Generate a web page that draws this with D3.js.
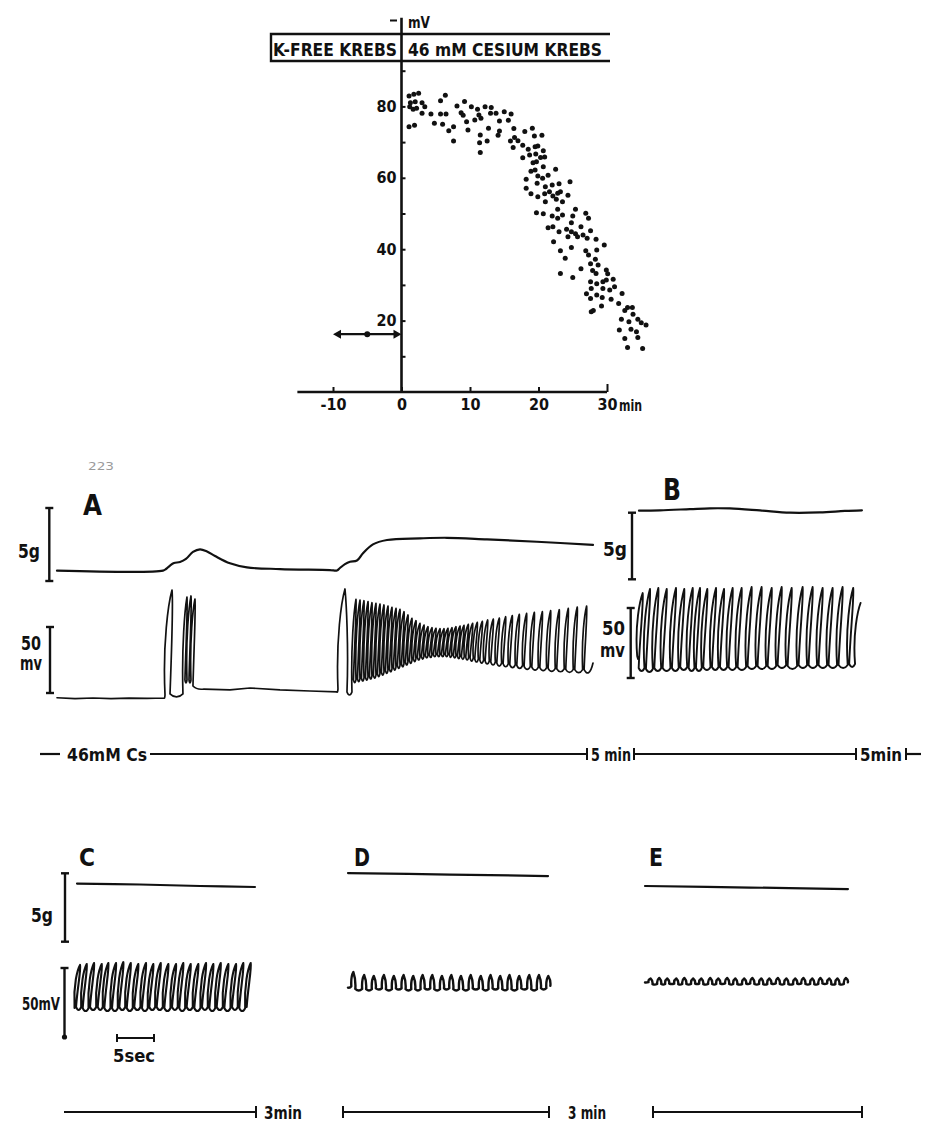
<!DOCTYPE html>
<html>
<head>
<meta charset="utf-8">
<script src="https://cdn.jsdelivr.net/npm/d3@7/dist/d3.min.js"></script>
<style>
html,body{margin:0;padding:0;background:#fff;}
svg{display:block;}
text{font-family:"Liberation Sans Narrow","DejaVu Sans Condensed","Liberation Sans",sans-serif;font-weight:bold;fill:#111;}
</style>
</head>
<body>
<svg id="fig" width="927" height="1126" viewBox="0 0 927 1126"></svg>
<script>
// ================= DATA =================
// --- scatter: membrane potential (-mV) vs time (min) in 46 mM cesium Krebs
const scatterTime = [1.1,1.8,2.5,1.3,2.0,3.0,1.2,1.7,2.2,3.4,3.0,4.3,1.1,1.9,4.8,5.7,6.4,5.7,6.5,6.0,6.9,7.6,7.6,8.1,9.2,8.7,9.0,9.5,9.7,10.2,11.1,11.3,10.7,11.6,12.2,13.1,13.0,13.8,14.3,15.0,16.0,15.6,11.5,11.4,12.5,11.5,12.7,14.3,14.1,16.4,16.5,15.9,17.0,16.3,17.7,18.0,19.1,19.4,20.5,18.5,19.5,19.9,20.7,17.7,18.7,19.6,20.3,20.9,19.2,19.7,18.9,19.5,20.7,22.5,18.2,19.9,20.6,21.4,19.8,18.2,21.0,22.0,23.0,24.6,18.9,19.9,20.9,21.6,22.1,22.8,23.2,22.6,23.5,24.3,21.0,19.7,20.7,22.0,22.8,23.5,22.8,25.4,25.0,26.9,27.3,24.8,21.4,22.1,23.0,24.1,24.8,25.4,25.7,26.2,26.5,27.1,27.6,24.3,22.2,28.4,29.6,23.2,24.8,26.9,28.5,23.9,27.3,28.3,27.6,28.7,26.2,27.9,28.4,23.2,25.0,27.6,28.5,29.4,27.7,29.4,27.0,27.6,28.5,29.3,29.9,30.1,29.9,30.9,31.1,30.4,30.6,31.7,32.2,29.2,27.7,33.0,33.7,32.6,33.8,32.1,33.2,34.5,35.0,35.7,31.8,33.5,34.3,32.6,34.5,33.0,35.2,28.0];
const scatterMv = [82.9,83.4,83.7,81.0,81.3,81.0,79.9,79.2,79.5,79.9,78.1,77.9,74.3,74.7,75.3,81.6,83.1,77.9,77.9,75.0,73.2,74.3,70.3,80.1,81.4,78.2,77.5,75.7,73.4,79.9,79.2,77.6,76.2,76.7,79.9,79.7,78.1,78.1,75.9,78.5,77.9,76.1,72.0,69.8,70.3,67.1,73.9,73.1,71.9,73.8,71.3,70.3,70.4,68.5,69.1,73.0,73.9,71.7,71.9,68.0,68.7,68.9,67.6,65.6,66.4,66.7,65.7,65.8,64.2,64.5,61.8,62.2,63.1,62.4,59.6,60.5,59.9,60.7,58.5,57.1,57.5,58.0,58.3,58.9,55.5,54.7,55.5,56.1,54.9,55.7,56.1,54.0,53.3,55.1,53.3,50.2,49.9,49.3,48.7,49.6,51.2,51.2,49.3,50.1,48.7,47.4,46.0,46.3,44.9,45.6,44.9,44.3,43.5,46.3,44.0,43.1,45.2,43.5,42.1,42.8,41.2,39.6,40.5,39.6,39.8,37.5,38.4,37.2,35.9,35.6,34.5,34.0,33.2,33.2,32.1,30.9,30.3,30.9,29.0,29.0,27.5,26.2,27.2,26.5,34.2,33.1,31.4,31.6,29.5,28.6,26.0,24.8,27.6,24.1,22.5,23.7,23.7,22.8,21.8,20.4,19.7,20.4,19.4,18.8,17.4,17.6,16.9,15.0,15.3,12.5,12.2,22.8];
// control value in K-free Krebs (mean with range, -10..0 min)
const controlTime = [-10, -5, 0];
const controlMv = 16.2;
const xTicks = [-10, 0, 10, 20, 30];
const xTickLabels = ["-10", "0", "10", "20", "30"];
const yTicks = [10, 20, 30, 40, 50, 60, 70, 80, 90];
const yTickLabels = ["", "20", "", "40", "", "60", "", "80", ""];
const solutionLabels = ["K-FREE KREBS", "46 mM CESIUM KREBS"];

// --- trace A (time in chart units, tension in g, potential in mV above bar foot)
const tensATime = [0,11.78,12.11,12.56,13.0,13.67,14.33,15.11,15.89,16.67,17.56,19.22,21.11,24.78,30.33,31.11,31.44,32.0,32.56,33.33,34.0,35.11,36.67,40.33,43.33,47.78,53.33,59.56];
const tensAG    = [0.71,0.71,0.82,1.06,1.23,1.30,1.51,1.99,2.17,2.02,1.71,1.21,0.93,0.82,0.75,0.72,0.89,1.16,1.32,1.40,1.90,2.51,2.81,2.92,2.96,2.85,2.69,2.47];
const memABase1T = [0, 2, 4, 6, 8, 10, 11.9];
const memABase1V = [-3.6, -4.2, -3.8, -4.3, -3.9, -4.1, -3.8];
const spikeA1T = [12.78, 14.44, 14.89, 15.33];
const spikeA1Peak = [78.0, 72.7, 73.5, 71.2];
const spikeA1Trough = [-3.0, 7.6, 7.6, 3.0];
const memABase2T = [16.33, 19.22, 21.44, 24.78, 28.11, 31.11];
const memABase2V = [3.0, 2.3, 3.8, 2.3, 1.5, 0.8];
const spikeA2T = [32.0,33.22,33.67,34.11,34.56,35.0,35.44,35.89,36.33,36.78,37.22,37.67,38.11,38.56,39.0,39.44,39.89,40.33,40.78,41.22,41.67,42.11,42.56,43.0,43.44,43.89,44.33,44.78,45.22,45.70,46.18,46.70,47.26,47.85,48.48,49.15,49.85,50.59,51.37,52.18,53.04,53.93,54.85,55.81,56.81,57.81,58.85];
const spikeA2Peak = [78.8,70.9,70.4,69.9,69.2,68.4,67.9,67.4,66.7,65.9,64.9,64.1,63.4,61.6,59.1,56.6,54.8,52.8,51.5,50.2,49.5,49.0,48.7,48.7,49.0,49.5,50.2,50.7,51.3,52.0,52.8,53.5,54.3,55.3,56.0,56.8,57.8,58.6,59.6,60.3,61.1,61.6,62.4,63.1,64.1,65.1,65.9];
const spikeA2Trough = [-1.5,7.8,8.6,9.1,9.8,10.6,11.3,12.4,13.6,14.9,16.1,17.4,18.7,19.9,21.2,22.5,23.7,25.0,25.7,26.5,27.0,27.5,27.5,27.5,27.5,27.0,26.5,26.0,25.5,25.0,24.2,23.5,22.7,22.0,21.2,20.4,19.9,19.2,18.7,17.9,17.4,16.9,16.4,16.1,15.6,15.4,15.4];
const memAEnd = [59.56, 22.7];

// --- trace B
const tensBTime = [0.11, 2.44, 5.78, 8.0, 10.22, 13.56, 16.89, 20.22, 23.0, 24.89];
const tensBG    = [5.15, 5.18, 5.27, 5.33, 5.32, 5.17, 5.0, 5.02, 5.13, 5.18];
const spikeBT = [0.52,1.33,2.26,3.19,4.22,5.14,6.08,6.89,7.70,8.67,9.56,10.52,11.52,12.63,13.74,14.86,15.97,17.08,18.30,19.41,20.52,21.63,22.74,23.92,24.74];
const spikeBPeak = [60.7,63.6,64.3,63.6,64.3,63.6,64.3,64.3,63.6,64.3,63.6,64.3,64.3,65.0,65.0,64.3,65.0,64.3,65.0,65.0,64.3,64.3,65.0,64.3,53.6];
const spikeBTrough = [5.0,4.3,5.0,5.0,5.0,5.7,5.0,5.0,5.7,5.7,5.7,5.7,5.7,6.4,6.4,6.4,7.1,6.4,7.1,7.1,7.1,7.1,7.1,7.9,null];
const memBStart = 13.6;

// --- traces C, D, E (time in s, shared 5 g / 50 mV bars)
const tensCTime = [0, 8.51, 16.62, 24.05];
const tensCG    = [4.25, 4.18, 4.07, 4.0];
const spikeCT = [0.41,1.31,2.30,3.34,4.23,5.27,6.26,7.26,8.28,9.32,10.31,11.31,12.34,13.38,14.36,15.36,16.39,17.43,18.42,19.42,20.45,21.49,22.47,23.47];
const spikeCPeak = [52.2,52.9,53.6,52.9,53.6,53.6,54.3,53.6,52.9,53.6,52.9,53.6,52.9,52.9,53.6,52.9,52.9,53.6,52.9,53.6,52.9,52.9,53.6,53.6];
const spikeCTrough = [19.6,18.8,19.6,19.6,18.8,18.8,19.6,18.8,19.6,18.8,19.6,19.6,18.8,19.6,18.8,19.6,18.8,19.6,18.8,19.6,18.8,19.6,18.8,19.6];
const memCStart = 21.0;

const tensDTime = [0, 13.78, 27.03];
const tensDG    = [5.02, 4.91, 4.80];
const spikeDT = [0.72,2.18,3.49,4.85,6.2,7.51,8.82,10.08,11.39,12.7,13.96,15.27,16.58,17.95,19.26,20.57,21.82,23.14,24.49,25.8,27.07];
const spikeDPeak = [47.1,44.9,44.2,44.9,44.2,44.9,44.2,44.9,44.9,44.2,44.9,44.2,44.9,44.2,44.9,44.2,44.9,44.2,44.9,44.9,44.2];
const spikeDTrough = [33.8,33.8,34.5,33.8,34.5,33.8,33.8,34.5,33.8,34.5,33.8,33.8,34.5,33.8,34.5,33.8,33.8,34.5,33.8,34.5,36.5];
const memDStart = 35.8;

const tensETime = [0, 14.19, 27.43];
const tensEG    = [4.07, 3.96, 3.85];
const spikeET = [0.74,1.92,3.0,4.22,5.31,6.5,7.6,8.81,9.9,11.1,12.2,13.4,14.5,15.7,16.8,17.95,19.1,20.3,21.4,22.6,23.7,24.9,26.0,27.15];
const spikeEPeak = [42.4,42.8,42.4,42.4,42.8,42.4,42.4,42.8,42.4,42.8,42.4,42.4,42.8,42.4,42.4,42.8,42.4,42.4,42.8,42.4,42.8,42.4,42.4,42.8];
const spikeETrough = [38.0,38.0,38.4,38.0,38.0,38.4,38.0,38.0,38.4,38.0,38.0,38.4,38.0,38.0,38.4,38.0,38.0,38.4,38.0,38.0,38.4,38.0,38.0,39.4];
const memEStart = 39.5;

// ================= DRAWING =================
const ink = "#111";
const svg = d3.select("#fig");

function txt(g, x, y, s, size, w, anchor) {
  const t = g.append("text").attr("x", x).attr("y", y).attr("font-size", size).text(s);
  if (w) t.attr("textLength", w).attr("lengthAdjust", "spacingAndGlyphs");
  if (anchor) t.attr("text-anchor", anchor);
  return t;
}
function seg(g, x1, y1, x2, y2, w) {
  return g.append("line").attr("x1", x1).attr("y1", y1).attr("x2", x2).attr("y2", y2)
    .attr("stroke", ink).attr("stroke-width", w || 2).attr("stroke-linecap", "butt");
}

// ---------- scatter ----------
const sx = d3.scaleLinear().domain([-10, 30]).range([333, 607]);
const sy = d3.scaleLinear().domain([0, 80]).range([392, 106.4]);
const gTop = svg.append("g");

gTop.append("path").attr("d", "M610,34H271V61H610").attr("fill", "none")
  .attr("stroke", ink).attr("stroke-width", 2.4);
txt(gTop, 273, 56, solutionLabels[0], 18, 124);
txt(gTop, 408, 56, solutionLabels[1], 18, 194);

const gy = gTop.append("g").attr("class", "ax").attr("transform", `translate(${sx(0)},0)`)
  .call(d3.axisLeft(sy).tickValues(yTicks).tickSizeInner(-4).tickSizeOuter(0).tickPadding(5)
    .tickFormat((d, i) => yTickLabels[i]));
gy.select(".domain").remove();
gy.selectAll("line").attr("stroke", ink).attr("stroke-width", 2);
gy.selectAll("text").style("font-size", "16px");

const gxa = gTop.append("g").attr("class", "ax").attr("transform", `translate(0,${sy(0)})`)
  .call(d3.axisBottom(sx).tickValues(xTicks).tickSizeInner(-5).tickSizeOuter(0).tickPadding(7)
    .tickFormat((d, i) => xTickLabels[i]));
gxa.select(".domain").remove();
gxa.selectAll("line").attr("stroke", ink).attr("stroke-width", 2);
gxa.selectAll("text").style("font-size", "16px");
gxa.selectAll(".tick").filter(d => d === 30).select("line").attr("y2", -8);

seg(gTop, sx(0), sy(0) + 1, sx(0), sy(104.8), 2.6);
seg(gTop, sx(-15.2), sy(0), sx(30), sy(0), 2.6);
txt(gTop, 619, 411, "min", 16, 23);
seg(gTop, 390, 20.5, 397, 20.5, 2);
txt(gTop, 408, 28, "mV", 15, 22);

gTop.append("g").selectAll("circle").data(d3.zip(scatterTime, scatterMv)).join("circle")
  .attr("cx", d => sx(d[0])).attr("cy", d => sy(d[1])).attr("r", 2.5).attr("fill", ink);

// control arrow
const ay = sy(controlMv);
seg(gTop, sx(controlTime[0]) + 6, ay, sx(controlTime[2]) - 6, ay, 2.2);
gTop.append("path").attr("fill", ink)
  .attr("d", `M${sx(controlTime[0])},${ay}l8,-4.5v9z M${sx(controlTime[2])},${ay}l-8,-4.5v9z`);
gTop.append("circle").attr("cx", sx(controlTime[1])).attr("cy", ay).attr("r", 3).attr("fill", ink);

// ---------- pen / spike-train helpers ----------
function Pen() { this.p = d3.path(); this.x = null; this.y = null; this.bottom = null; }
Pen.prototype.move = function (x, y) { this.p.moveTo(x, y); this.x = x; this.y = y; this.bottom = y; };
Pen.prototype.line = function (x, y) { this.p.lineTo(x, y); this.x = x; this.y = y; this.bottom = y; };
Pen.prototype.curve = function (a, b, c, d, x, y) { this.p.bezierCurveTo(a, b, c, d, x, y); this.x = x; this.y = y; };

function uTo(pen, x1, y1, bottom) {
  const gx = x1 - pen.x;
  if (gx <= 0.4) { pen.line(x1, y1); return; }
  const b = Math.max(bottom == null ? pen.y : bottom, pen.y, y1);
  const cy = (b - 0.125 * (pen.y + y1)) / 0.75;
  pen.curve(pen.x + gx * 0.3, cy, x1 - gx * 0.3, cy, x1, y1);
  pen.bottom = y1;
}

function train(pen, xs, ys, tPk, vPk, vTr, o) {
  const val = (v, i) => typeof v === "function" ? v(i) : v;
  const u = o.u == null ? 3 : o.u;
  const bow = o.bow == null ? 0.2 : o.bow;
  for (let i = 0; i < tPk.length; i++) {
    const L = val(o.lean, i);
    const xp = xs(tPk[i]), yp = ys(vPk[i]);
    const x0 = xp - L;
    if (pen.x === null) pen.move(x0, ys(o.startV));
    const yb = pen.bottom == null ? pen.y : Math.max(pen.bottom, pen.y);
    const y0 = Math.min(pen.y, yb - Math.min(u, (yb - yp) * 0.08));
    uTo(pen, x0, y0, yb);
    const h = y0 - yp;
    pen.curve(x0 - L * bow, y0 - h * 0.5, xp - L * 0.5, yp + h * 0.12, xp, yp);
    if (vTr[i] == null) return;
    const yt = ys(vTr[i]);
    const d1 = Math.min(u, (yt - yp) * 0.08);
    const xa = x0 + val(o.dw, i), ya = yt - d1;
    const h2 = ya - yp;
    pen.curve(xp + 0.5 + L * 0.1, yp + h2 * 0.12, xa + L * 0.25, ya - h2 * 0.45, xa, ya);
    pen.bottom = yt;
  }
  if (o.end) uTo(pen, xs(o.end[0]), ys(o.end[1]), pen.bottom);
}

function drawPen(g, pen, w) {
  g.append("path").attr("d", pen.p.toString()).attr("fill", "none").attr("stroke", ink)
    .attr("stroke-width", w).attr("stroke-linejoin", "round").attr("stroke-linecap", "round");
}
const tensionLine = (xs, ys) => d3.line().x(d => xs(d[0])).y(d => ys(d[1])).curve(d3.curveCatmullRom.alpha(0.5));
function drawTension(g, xs, ys, T, G, w) {
  g.append("path").attr("d", tensionLine(xs, ys)(d3.zip(T, G))).attr("fill", "none")
    .attr("stroke", ink).attr("stroke-width", w || 2.2).attr("stroke-linecap", "round");
}
function scaleBar(g, x, y1, y2, cap, dotEnd) {
  seg(g, x, y1, x, y2, 2.4);
  seg(g, x - cap, y1, x + cap, y1, 2.4);
  if (dotEnd) g.append("circle").attr("cx", x).attr("cy", y2).attr("r", 2.6).attr("fill", ink);
  else seg(g, x - cap, y2, x + cap, y2, 2.4);
}

// ---------- panel A ----------
const gA = svg.append("g");
const tA = d3.scaleLinear().domain([0, 59.56]).range([57, 593]);
const fA = d3.scaleLinear().domain([0, 5]).range([581, 508]);
const mA = d3.scaleLinear().domain([0, 50]).range([693, 627]);
txt(gA, 88, 470, "223", 11, 26).style("fill", "#9a9a9a").style("font-weight", "normal");
txt(gA, 83, 515, "A", 29, 19);
scaleBar(gA, 49.3, fA(5), fA(0), 4);
scaleBar(gA, 50, mA(50), mA(0), 4);
txt(gA, 18, 558, "5g", 19, 22);
txt(gA, 21, 650, "50", 19, 20);
txt(gA, 20, 670, "mv", 19, 22);
drawTension(gA, tA, fA, tensATime, tensAG, 2.2);
{
  const pen = new Pen();
  pen.move(tA(memABase1T[0]), mA(memABase1V[0]));
  for (let i = 1; i < memABase1T.length; i++) pen.line(tA(memABase1T[i]), mA(memABase1V[i]));
  train(pen, tA, mA, spikeA1T, spikeA1Peak, spikeA1Trough, { lean: i => i === 0 ? 7 : 4, dw: i => i === 0 ? 5 : 2, u: 3, bow: 0.35 });
  uTo(pen, tA(memABase2T[0]), mA(memABase2V[0]), pen.bottom);
  for (let i = 1; i < memABase2T.length; i++) pen.line(tA(memABase2T[i]), mA(memABase2V[i]));
  train(pen, tA, mA, spikeA2T, spikeA2Peak, spikeA2Trough, { lean: i => i === 0 ? 7 : 4, dw: i => i === 0 ? 9 : 1.5, u: 3, bow: 0.3, end: memAEnd });
  drawPen(gA, pen, 1.7);
}

// ---------- panel B ----------
const gB = svg.append("g");
const tB = d3.scaleLinear().domain([0, 24.9]).range([638, 862]);
const fB = d3.scaleLinear().domain([0, 5]).range([579.3, 512.7]);
const mB = d3.scaleLinear().domain([0, 50]).range([678, 608]);
txt(gB, 663, 500, "B", 30, 18);
scaleBar(gB, 632, fB(5), fB(0), 4);
scaleBar(gB, 630.7, mB(50), mB(0), 4);
txt(gB, 603, 556, "5g", 19, 24);
txt(gB, 602, 635, "50", 19, 23);
txt(gB, 600, 657, "mv", 19, 25);
drawTension(gB, tB, fB, tensBTime, tensBG, 2.2);
{
  const pen = new Pen();
  pen.move(tB(0), mB(memBStart));
  train(pen, tB, mB, spikeBT, spikeBPeak, spikeBTrough, { lean: 5.5, dw: 1.5, u: 3, bow: 0.45 });
  drawPen(gB, pen, 1.9);
}

// ---------- panels C, D, E ----------
const gC = svg.append("g");
const tC = d3.scaleLinear().domain([0, 24]).range([77, 254.6]);
const tD = d3.scaleLinear().domain([0, 27.2]).range([348, 549.3]);
const tE = d3.scaleLinear().domain([0, 27.8]).range([645, 850.7]);
const fC = d3.scaleLinear().domain([0, 5]).range([941.7, 873.3]);
const mC = d3.scaleLinear().domain([0, 50]).range([1037, 968]);
txt(gC, 79, 866, "C", 24, 16);
txt(gC, 354, 866, "D", 24, 16);
txt(gC, 649, 866, "E", 24, 14);
scaleBar(gC, 65, fC(5), fC(0), 4);
scaleBar(gC, 64.5, mC(50), mC(0), 4, true);
txt(gC, 31, 922, "5g", 19, 22);
txt(gC, 22, 1010, "50mV", 18, 38);
drawTension(gC, tC, fC, tensCTime, tensCG, 2.2);
drawTension(gC, tD, fC, tensDTime, tensDG, 2.2);
drawTension(gC, tE, fC, tensETime, tensEG, 2.2);
{
  const pen = new Pen();
  train(pen, tC, mC, spikeCT, spikeCPeak, spikeCTrough, { lean: 5.5, dw: 1.5, u: 3, bow: 0.2, startV: memCStart });
  drawPen(gC, pen, 2.1);
}
{
  const pen = new Pen();
  pen.move(tD(0), mC(memDStart));
  train(pen, tD, mC, spikeDT, spikeDPeak, spikeDTrough, { lean: 2, dw: 4, u: 2 });
  drawPen(gC, pen, 2.4);
}
{
  const pen = new Pen();
  pen.move(tE(0), mC(memEStart));
  train(pen, tE, mC, spikeET, spikeEPeak, spikeETrough, { lean: 2, dw: 4, u: 1.5 });
  drawPen(gC, pen, 2.4);
}
// 5 sec calibration
const sec = d3.scaleLinear().domain([0, 5]).range([117, 154]);
seg(gC, sec(0), 1038, sec(5), 1038, 2.2);
seg(gC, sec(0), 1034, sec(0), 1042, 2);
seg(gC, sec(5), 1034, sec(5), 1042, 2);
txt(gC, 113, 1062, "5sec", 18, 42);

// ---------- time bars ----------
const gT = svg.append("g");
const yr1 = 754;
seg(gT, 40, yr1, 60, yr1, 2.2);
txt(gT, 67, yr1 + 7, "46mM Cs", 17, 80);
seg(gT, 150, yr1, 587, yr1, 2.2);
seg(gT, 587, yr1 - 6, 587, yr1 + 6, 2);
txt(gT, 591, yr1 + 7, "5 min", 17, 40);
seg(gT, 634, yr1 - 6, 634, yr1 + 6, 2);
seg(gT, 634, yr1, 856, yr1, 2.2);
seg(gT, 856, yr1 - 6, 856, yr1 + 6, 2);
txt(gT, 860, yr1 + 7, "5min", 17, 42);
seg(gT, 906, yr1 - 6, 906, yr1 + 6, 2);
seg(gT, 906, yr1, 921, yr1, 2.2);

const yr2 = 1112;
seg(gT, 64, yr2, 256, yr2, 2.2);
seg(gT, 256, yr2 - 6, 256, yr2 + 6, 2);
txt(gT, 264, yr2 + 7, "3min", 17, 38);
seg(gT, 343, yr2 - 6, 343, yr2 + 6, 2);
seg(gT, 343, yr2, 549, yr2, 2.2);
seg(gT, 549, yr2 - 6, 549, yr2 + 6, 2);
txt(gT, 568, yr2 + 7, "3 min", 17, 38);
seg(gT, 653, yr2 - 6, 653, yr2 + 6, 2);
seg(gT, 653, yr2, 862, yr2, 2.2);
seg(gT, 862, yr2 - 6, 862, yr2 + 6, 2);
</script>
</body>
</html>
